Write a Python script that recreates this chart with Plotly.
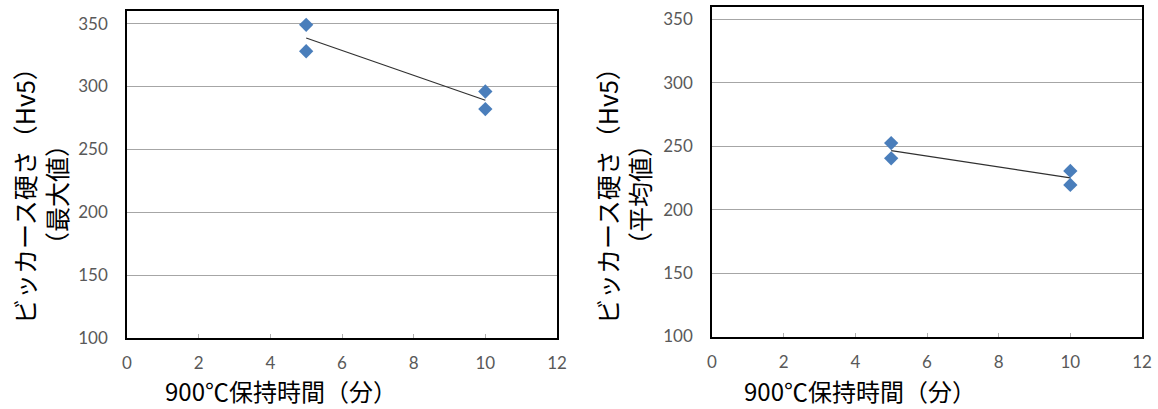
import numpy as np
import plotly.graph_objects as go

# Data
time_min = [5, 5, 10, 10]
hv_max = [349, 328, 296, 282]
hv_avg = [252.5, 240.5, 230.5, 219.5]

x_ticks = [0, 2, 4, 6, 8, 10, 12]
y_ticks = [100, 150, 200, 250, 300, 350]

ytitle_line1 = "ビッカース硬さ（Hv5）"
ytitle_left_line2 = "（最大値）"
ytitle_right_line2 = "（平均値）"
xtitle = "900℃保持時間（分）"

MARKER = "#4a7ebb"
TREND = "#303030"

def trend(x, y):
    xs = np.array(x, float)
    ys = np.array(y, float)
    m, b = np.polyfit(xs, ys, 1)
    xl = [min(xs), max(xs)]
    return xl, [m * v + b for v in xl]

fig = go.Figure()

for i, yv in enumerate([hv_max, hv_avg]):
    xa = "x" if i == 0 else "x2"
    ya = "y" if i == 0 else "y2"
    tx, ty = trend(time_min, yv)
    fig.add_trace(go.Scatter(x=tx, y=ty, mode="lines", line=dict(color=TREND, width=1.2),
                             xaxis=xa, yaxis=ya, showlegend=False, hoverinfo="skip"))
    fig.add_trace(go.Scatter(x=time_min, y=yv, mode="markers",
                             marker=dict(symbol="diamond", size=11, color=MARKER),
                             xaxis=xa, yaxis=ya, showlegend=False))

tickfont = dict(family="Lato, Open Sans, sans-serif", size=17, color="#595959")

def xaxis(domain, anchor):
    return dict(domain=domain, anchor=anchor, range=[0, 12], tickvals=x_ticks,
                showgrid=False, zeroline=False, showline=True, linecolor="#000000",
                linewidth=1.5, mirror=True, ticks="inside", ticklen=4, tickcolor="#b0b0b0",
                tickwidth=1, tickfont=tickfont, ticklabelstandoff=9, fixedrange=True,
                automargin=False)

def yaxis(domain, anchor):
    return dict(domain=domain, anchor=anchor, range=[100, 360], tickvals=y_ticks,
                showgrid=True, gridcolor="#a6a6a6", gridwidth=1, zeroline=False,
                showline=True, linecolor="#000000", linewidth=1.5, mirror=True,
                ticks="", tickfont=tickfont, ticklabelstandoff=14, fixedrange=True,
                automargin=False)

W, H = 1158, 409
fig.update_layout(
    width=W, height=H, margin=dict(l=0, r=0, t=0, b=0, pad=0), autosize=False,
    paper_bgcolor="white", plot_bgcolor="white",
    xaxis=xaxis([127 / W, 557 / W], "y"),
    yaxis=yaxis([1 - 338 / H, 1 - 11 / H], "x"),
    xaxis2=xaxis([712 / W, 1142 / W], "y2"),
    yaxis2=yaxis([1 - 336.5 / H, 1 - 6.7 / H], "x2"),
)

yfont = dict(family="Noto Sans CJK JP, sans-serif", size=25, color="#000000")
xfont = dict(family="Noto Sans CJK JP, sans-serif", size=24, color="#000000")
ann = [
    dict(text=ytitle_line1, x=24 / W, y=1 - 190 / H, textangle=-90, font=yfont),
    dict(text=ytitle_left_line2, x=56 / W, y=1 - 195 / H, textangle=-90, font=yfont),
    dict(text=ytitle_line1, x=607 / W, y=1 - 190 / H, textangle=-90, font=yfont),
    dict(text=ytitle_right_line2, x=639 / W, y=1 - 195 / H, textangle=-90, font=yfont),
    dict(text=xtitle, x=281 / W, y=1 - 390 / H, textangle=0, font=xfont),
    dict(text=xtitle, x=860 / W, y=1 - 390 / H, textangle=0, font=xfont),
]
for a in ann:
    fig.add_annotation(xref="paper", yref="paper", showarrow=False, xanchor="center",
                       yanchor="middle", align="center", **a)

fig.write_html("out.html")
